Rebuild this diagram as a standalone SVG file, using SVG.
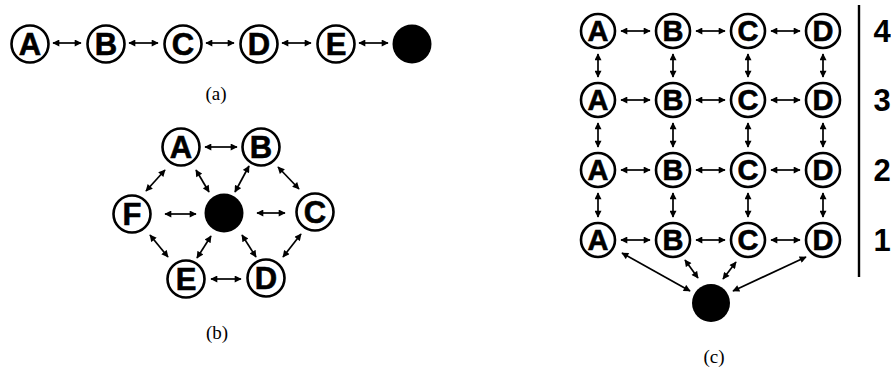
<svg xmlns="http://www.w3.org/2000/svg" width="891" height="372" viewBox="0 0 891 372">
  <defs>
    <marker id="head" viewBox="0 0 10 10" refX="9" refY="5" markerWidth="8" markerHeight="7" markerUnits="userSpaceOnUse" orient="auto-start-reverse">
      <path d="M0,0 L10,5 L0,10 Z" fill="#000"/>
    </marker>
  </defs>
  <style>
    .node circle { fill: #fff; stroke: #000; stroke-width: 2.6; }
    .node text { font-family: "Liberation Sans", Arial, sans-serif; font-weight: bold; font-size: 31px; text-anchor: middle; fill: #000; stroke: #000; stroke-width: 0.6; }
    .sm text { font-size: 29px; }
    .hub circle { fill: #000; stroke: none; }
    .edges line { stroke: #000; stroke-width: 1.7; marker-start: url(#head); marker-end: url(#head); }
    .cap { font-family: "Liberation Serif", "Times New Roman", serif; font-size: 19px; text-anchor: middle; fill: #000; }
    .row { font-family: "Liberation Sans", Arial, sans-serif; font-weight: bold; font-size: 31px; text-anchor: middle; fill: #000; }
  </style>
  <rect width="891" height="372" fill="#fff"/>

  <!-- (a) chain -->
  <g id="a-A" class="node"><circle cx="30" cy="44" r="18.5"/><text x="30" y="55">A</text></g>
  <g id="a-B" class="node"><circle cx="106" cy="44" r="18.5"/><text x="106" y="55">B</text></g>
  <g id="a-C" class="node"><circle cx="183" cy="44" r="18.5"/><text x="183" y="55">C</text></g>
  <g id="a-D" class="node"><circle cx="259" cy="44" r="18.5"/><text x="259" y="55">D</text></g>
  <g id="a-E" class="node"><circle cx="336" cy="44" r="18.5"/><text x="336" y="55">E</text></g>
  <g id="a-hub" class="hub"><circle cx="412" cy="44" r="19.5"/></g>
  <g id="a-edges" class="edges">
    <line x1="53" y1="43" x2="81" y2="43"/>
    <line x1="129" y1="43" x2="158" y2="43"/>
    <line x1="206" y1="43" x2="234" y2="43"/>
    <line x1="282" y1="43" x2="311" y2="43"/>
    <line x1="359" y1="43" x2="388" y2="43"/>
  </g>
  <text class="cap" x="216" y="100">(a)</text>

  <!-- (b) hexagon around a hub -->
  <g id="b-A" class="node"><circle cx="181" cy="147" r="18.5"/><text x="181" y="158">A</text></g>
  <g id="b-B" class="node"><circle cx="261" cy="147" r="18.5"/><text x="261" y="158">B</text></g>
  <g id="b-C" class="node"><circle cx="315" cy="212" r="18.5"/><text x="315" y="223">C</text></g>
  <g id="b-D" class="node"><circle cx="266" cy="278" r="18.5"/><text x="266" y="289">D</text></g>
  <g id="b-E" class="node"><circle cx="186" cy="279" r="18.5"/><text x="186" y="290">E</text></g>
  <g id="b-F" class="node"><circle cx="132" cy="214" r="18.5"/><text x="132" y="225">F</text></g>
  <g id="b-hub" class="hub"><circle cx="224" cy="213" r="19.5"/></g>
  <g id="b-edges" class="edges">
    <line x1="205" y1="147" x2="237" y2="147"/>
    <line x1="165" y1="170" x2="146" y2="191"/>
    <line x1="196" y1="170" x2="209" y2="192"/>
    <line x1="249" y1="166" x2="235" y2="192"/>
    <line x1="278" y1="167" x2="299" y2="189"/>
    <line x1="165" y1="214" x2="196" y2="214"/>
    <line x1="257" y1="213" x2="285" y2="213"/>
    <line x1="150" y1="235" x2="168" y2="257"/>
    <line x1="211" y1="236" x2="197" y2="258"/>
    <line x1="242" y1="235" x2="256" y2="257"/>
    <line x1="301" y1="234" x2="283" y2="257"/>
    <line x1="211" y1="279" x2="241" y2="279"/>
  </g>
  <text class="cap" x="217" y="339">(b)</text>

  <!-- (c) four-level grid -->
  <g id="c-A4" class="node sm"><circle cx="598" cy="31" r="17"/><text x="598" y="41">A</text></g>
  <g id="c-B4" class="node sm"><circle cx="673" cy="31" r="17"/><text x="673" y="41">B</text></g>
  <g id="c-C4" class="node sm"><circle cx="748" cy="31" r="17"/><text x="748" y="41">C</text></g>
  <g id="c-D4" class="node sm"><circle cx="823" cy="31" r="17"/><text x="823" y="41">D</text></g>
  <g id="c-A3" class="node sm"><circle cx="598" cy="100" r="17"/><text x="598" y="110">A</text></g>
  <g id="c-B3" class="node sm"><circle cx="673" cy="100" r="17"/><text x="673" y="110">B</text></g>
  <g id="c-C3" class="node sm"><circle cx="748" cy="100" r="17"/><text x="748" y="110">C</text></g>
  <g id="c-D3" class="node sm"><circle cx="823" cy="100" r="17"/><text x="823" y="110">D</text></g>
  <g id="c-A2" class="node sm"><circle cx="598" cy="170" r="17"/><text x="598" y="180">A</text></g>
  <g id="c-B2" class="node sm"><circle cx="673" cy="170" r="17"/><text x="673" y="180">B</text></g>
  <g id="c-C2" class="node sm"><circle cx="748" cy="170" r="17"/><text x="748" y="180">C</text></g>
  <g id="c-D2" class="node sm"><circle cx="823" cy="170" r="17"/><text x="823" y="180">D</text></g>
  <g id="c-A1" class="node sm"><circle cx="598" cy="240" r="17"/><text x="598" y="250">A</text></g>
  <g id="c-B1" class="node sm"><circle cx="673" cy="240" r="17"/><text x="673" y="250">B</text></g>
  <g id="c-C1" class="node sm"><circle cx="748" cy="240" r="17"/><text x="748" y="250">C</text></g>
  <g id="c-D1" class="node sm"><circle cx="823" cy="240" r="17"/><text x="823" y="250">D</text></g>
  <g id="c-hub" class="hub"><circle cx="711" cy="303" r="19"/></g>
  <g id="c-edges" class="edges">
    <line x1="621" y1="31" x2="650" y2="31"/>
    <line x1="696" y1="31" x2="725" y2="31"/>
    <line x1="771" y1="31" x2="800" y2="31"/>
    <line x1="621" y1="100" x2="650" y2="100"/>
    <line x1="696" y1="100" x2="725" y2="100"/>
    <line x1="771" y1="100" x2="800" y2="100"/>
    <line x1="621" y1="170" x2="650" y2="170"/>
    <line x1="696" y1="170" x2="725" y2="170"/>
    <line x1="771" y1="170" x2="800" y2="170"/>
    <line x1="621" y1="240" x2="650" y2="240"/>
    <line x1="696" y1="240" x2="725" y2="240"/>
    <line x1="771" y1="240" x2="800" y2="240"/>
    <line x1="598" y1="54" x2="598" y2="77"/>
    <line x1="673" y1="54" x2="673" y2="77"/>
    <line x1="748" y1="54" x2="748" y2="77"/>
    <line x1="823" y1="54" x2="823" y2="77"/>
    <line x1="598" y1="123" x2="598" y2="147"/>
    <line x1="673" y1="123" x2="673" y2="147"/>
    <line x1="748" y1="123" x2="748" y2="147"/>
    <line x1="823" y1="123" x2="823" y2="147"/>
    <line x1="598" y1="193" x2="598" y2="217"/>
    <line x1="673" y1="193" x2="673" y2="217"/>
    <line x1="748" y1="193" x2="748" y2="217"/>
    <line x1="823" y1="193" x2="823" y2="217"/>
    <line x1="622" y1="253" x2="690" y2="291"/>
    <line x1="685" y1="260" x2="698" y2="278"/>
    <line x1="736" y1="262" x2="723" y2="279"/>
    <line x1="806" y1="257" x2="733" y2="291"/>
  </g>
  <line x1="859" y1="5" x2="859" y2="277" stroke="#000" stroke-width="2.4"/>
  <text class="row" x="882" y="42">4</text>
  <text class="row" x="882" y="111">3</text>
  <text class="row" x="882" y="181">2</text>
  <text class="row" x="882" y="251">1</text>
  <text class="cap" x="714" y="363">(c)</text>
</svg>
